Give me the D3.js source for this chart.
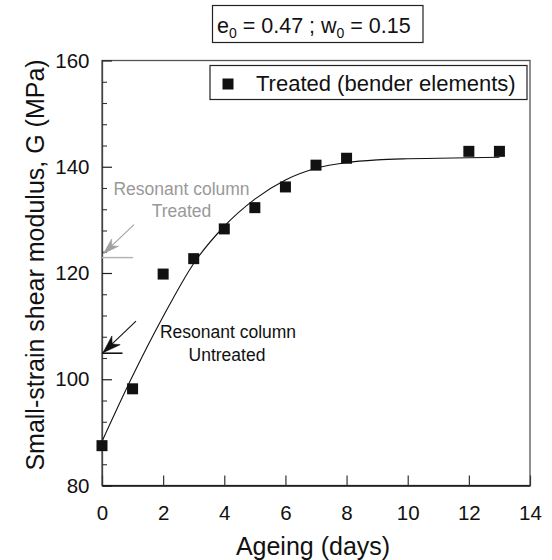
<!DOCTYPE html>
<html>
<head>
<meta charset="utf-8">
<script src="https://cdn.jsdelivr.net/npm/d3@7"></script>
<style>
  html, body { margin: 0; padding: 0; background: #fff; }
  svg { display: block; font-family: "Liberation Sans", Arial, Helvetica, sans-serif; }
</style>
</head>
<body>
<svg id="chart" width="552" height="560"></svg>
<script>
// Bender-element measurements on treated specimens
const ageingDays = [0, 1, 2, 3, 4, 5, 6, 7, 8, 12, 13];
const shearModulus = [87.5, 98.2, 119.8, 122.7, 128.3, 132.3, 136.2, 140.3, 141.6, 142.9, 142.9];

// Fitted trend through the measurements
const trendDays = [0, 1, 2, 3, 4, 5, 6, 7, 8, 9, 10, 11, 12, 13];
const trendModulus = [88.3, 100.6, 111.8, 121.8, 128.8, 133.9, 137.5, 139.7, 140.8, 141.3, 141.5, 141.6, 141.7, 141.8];

// Resonant column reference values (MPa)
const resonantTreated = 122.9;
const resonantUntreated = 104.9;

// Axis ticks
const xTicks = [0, 2, 4, 6, 8, 10, 12, 14];
const yTicks = [80, 100, 120, 140, 160];
const yMinorTicks = [84, 88, 92, 96, 104, 108, 112, 116, 124, 128, 132, 136, 144, 148, 152, 156];

const svg = d3.select("#chart");
const plotLeft = 102, plotRight = 530, plotTop = 60.5, plotBottom = 485.5;

const x = d3.scaleLinear().domain([0, 14]).range([plotLeft, plotRight]);
const y = d3.scaleLinear().domain([80, 160]).range([plotBottom, plotTop]);

// plot frame
svg.append("rect")
  .attr("x", plotLeft).attr("y", plotTop)
  .attr("width", plotRight - plotLeft).attr("height", plotBottom - plotTop)
  .attr("fill", "none").attr("stroke", "#555").attr("stroke-width", 1.3);

// y axis (ticks pointing inward)
const yAxis = svg.append("g").attr("transform", `translate(${plotLeft},0)`)
  .call(d3.axisLeft(y).tickValues(yTicks).tickSize(-10).tickSizeOuter(0).tickPadding(12.5));
yAxis.select(".domain").attr("stroke", "#444").attr("stroke-width", 1.3);
yAxis.selectAll(".tick line").attr("stroke", "#222").attr("stroke-width", 1.2);
yAxis.selectAll(".tick text").attr("font-size", "20.5px").attr("fill", "#111")
  .attr("font-family", "Liberation Sans, Arial, sans-serif");

const yMinor = svg.append("g").attr("transform", `translate(${plotLeft},0)`)
  .call(d3.axisLeft(y).tickValues(yMinorTicks).tickSize(-5).tickSizeOuter(0).tickFormat(""));
yMinor.select(".domain").remove();
yMinor.selectAll(".tick line").attr("stroke", "#333").attr("stroke-width", 1.1);

// x axis (ticks pointing inward)
const xAxis = svg.append("g").attr("transform", `translate(0,${plotBottom})`)
  .call(d3.axisBottom(x).tickValues(xTicks).tickSize(-10).tickSizeOuter(0).tickPadding(20));
xAxis.select(".domain").attr("stroke", "#111").attr("stroke-width", 1.4);
xAxis.selectAll(".tick line").attr("stroke", "#333").attr("stroke-width", 1.2);
xAxis.selectAll(".tick text").attr("font-size", "20.5px").attr("fill", "#111")
  .attr("font-family", "Liberation Sans, Arial, sans-serif");

// axis titles
svg.append("text")
  .attr("x", (plotLeft + plotRight) / 2 - 3).attr("y", 555)
  .attr("text-anchor", "middle").attr("font-size", "25px").attr("fill", "#111")
  .text("Ageing (days)");

svg.append("text")
  .attr("transform", "translate(44,265) rotate(-90)")
  .attr("text-anchor", "middle").attr("font-size", "25px").attr("fill", "#111")
  .text("Small-strain shear modulus, G (MPa)");

// fitted trend line
const trend = trendDays.map((d, i) => [d, trendModulus[i]]);
svg.append("path")
  .datum(trend)
  .attr("fill", "none").attr("stroke", "#111").attr("stroke-width", 1.1)
  .attr("d", d3.line().x(d => x(d[0])).y(d => y(d[1])).curve(d3.curveMonotoneX));

// measured points
const pts = ageingDays.map((d, i) => [d, shearModulus[i]]);
const sq = 11;
svg.append("g").selectAll("rect").data(pts).join("rect")
  .attr("x", d => x(d[0]) - sq / 2).attr("y", d => y(d[1]) - sq / 2)
  .attr("width", sq).attr("height", sq).attr("fill", "#111");

// arrow heads
function arrowHead(g, x1, y1, x2, y2, len, half, color) {
  const a = Math.atan2(y2 - y1, x2 - x1);
  const ux = Math.cos(a), uy = Math.sin(a);
  const px = -uy, py = ux;
  const bx = x2 - ux * len, by = y2 - uy * len;
  const nx = x2 - ux * len * 0.7, ny = y2 - uy * len * 0.7;
  g.append("path")
    .attr("d", `M${x2},${y2} L${bx + px * half},${by + py * half} L${nx},${ny} L${bx - px * half},${by - py * half} Z`)
    .attr("fill", color).attr("stroke", color).attr("stroke-width", 0.6);
}

// resonant column, treated (grey)
const gTreat = svg.append("g");
const yT = y(resonantTreated);
gTreat.append("line")
  .attr("x1", plotLeft).attr("x2", plotLeft + 31).attr("y1", yT).attr("y2", yT)
  .attr("stroke", "#b4b4b4").attr("stroke-width", 1.5);
gTreat.append("line")
  .attr("x1", plotLeft + 32).attr("y1", yT - 33).attr("x2", plotLeft + 2).attr("y2", yT - 4.5)
  .attr("stroke", "#a0a0a0").attr("stroke-width", 1.1);
arrowHead(gTreat, plotLeft + 32, yT - 33, plotLeft + 1.5, yT - 4, 16, 5, "#a0a0a0");
gTreat.append("text").attr("x", 181.5).attr("y", 195).attr("text-anchor", "middle")
  .attr("font-size", "17.5px").attr("fill", "#999").text("Resonant column");
gTreat.append("text").attr("x", 181.5).attr("y", 217).attr("text-anchor", "middle")
  .attr("font-size", "17.5px").attr("fill", "#999").text("Treated");

// resonant column, untreated (black)
const gUn = svg.append("g");
const yU = y(resonantUntreated);
gUn.append("line")
  .attr("x1", plotLeft).attr("x2", plotLeft + 20.5).attr("y1", yU).attr("y2", yU)
  .attr("stroke", "#111").attr("stroke-width", 1.6);
gUn.append("line")
  .attr("x1", plotLeft + 34).attr("y1", yU - 32).attr("x2", plotLeft + 1.5).attr("y2", yU - 1)
  .attr("stroke", "#111").attr("stroke-width", 1.1);
arrowHead(gUn, plotLeft + 34, yU - 32, plotLeft + 1, yU - 0.5, 18, 6, "#111");
gUn.append("text").attr("x", 228).attr("y", 338).attr("text-anchor", "middle")
  .attr("font-size", "17.5px").attr("fill", "#111").text("Resonant column");
gUn.append("text").attr("x", 227).attr("y", 361).attr("text-anchor", "middle")
  .attr("font-size", "17.5px").attr("fill", "#111").text("Untreated");

// legend
const leg = svg.append("g");
leg.append("rect").attr("x", 210).attr("y", 65.5).attr("width", 317).attr("height", 34)
  .attr("fill", "#fff").attr("stroke", "#222").attr("stroke-width", 1.2);
leg.append("rect").attr("x", 228 - sq / 2).attr("y", 84 - sq / 2).attr("width", sq).attr("height", sq)
  .attr("fill", "#111");
leg.append("text").attr("x", 256).attr("y", 90.5).attr("font-size", "22px").attr("fill", "#111")
  .text("Treated (bender elements)");

// specimen conditions box
const cond = svg.append("g");
cond.append("rect").attr("x", 212.5).attr("y", 5.5).attr("width", 210.5).attr("height", 37)
  .attr("fill", "#fff").attr("stroke", "#222").attr("stroke-width", 1.2);
const ct = cond.append("text").attr("x", 217).attr("y", 32.5).attr("font-size", "21.5px").attr("fill", "#111");
ct.append("tspan").text("e");
ct.append("tspan").attr("font-size", "14px").attr("dy", 5).text("0");
ct.append("tspan").attr("dy", -5).text(" = 0.47 ; w");
ct.append("tspan").attr("font-size", "14px").attr("dy", 5).text("0");
ct.append("tspan").attr("dy", -5).text(" = 0.15");
</script>
</body>
</html>
